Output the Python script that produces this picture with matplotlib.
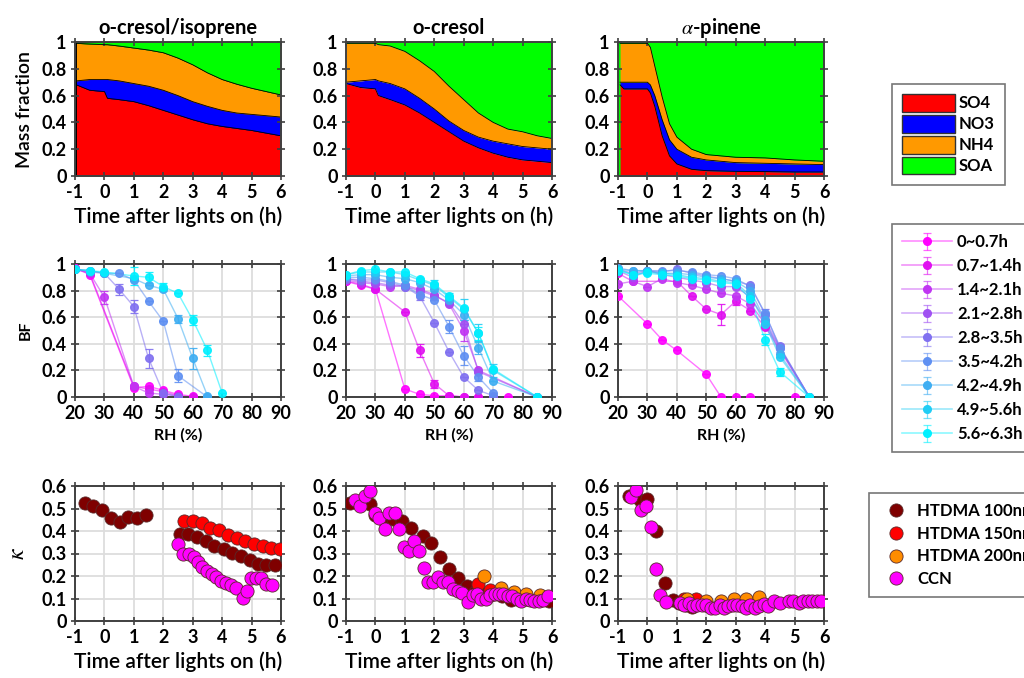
import numpy as np
import matplotlib
matplotlib.use("Agg")
import matplotlib.pyplot as plt
from matplotlib.patches import Patch
from matplotlib.lines import Line2D
from matplotlib.colors import to_rgba

plt.rcParams['font.family'] = ['Lato', 'DejaVu Sans']
plt.rcParams['mathtext.fontset'] = 'stix'
plt.rcParams['axes.unicode_minus'] = False

# ---------------- Row 1: mass fractions (cumulative tops) ----------------
titles = ["o-cresol/isoprene", "o-cresol", r"$\alpha$-pinene"]
species = ["SO4", "NO3", "NH4", "SOA"]
species_colors = ["#FF0000", "#0000FF", "#FF9900", "#00FF00"]

t_iso = [-0.95, -0.5, 0, 0.1, 0.5, 1, 1.5, 2, 2.5, 3, 3.5, 4, 4.5, 5, 5.5, 6]
so4_iso = [0.68, 0.64, 0.63, 0.58, 0.57, 0.555, 0.525, 0.49, 0.455, 0.42, 0.39, 0.37, 0.355, 0.34, 0.32, 0.30]
no3_iso = [0.71, 0.72, 0.72, 0.72, 0.71, 0.69, 0.67, 0.64, 0.60, 0.555, 0.52, 0.49, 0.47, 0.46, 0.45, 0.44]
nh4_iso = [0.99, 0.985, 0.98, 0.98, 0.97, 0.955, 0.94, 0.92, 0.88, 0.83, 0.77, 0.72, 0.685, 0.655, 0.63, 0.605]

t_cre = [-1, -0.5, 0, 0.1, 0.5, 1, 1.5, 2, 2.5, 3, 3.5, 4, 4.5, 5, 5.5, 6]
so4_cre = [0.69, 0.66, 0.65, 0.60, 0.57, 0.53, 0.47, 0.40, 0.33, 0.26, 0.21, 0.17, 0.14, 0.12, 0.11, 0.10]
no3_cre = [0.70, 0.71, 0.72, 0.71, 0.69, 0.65, 0.58, 0.50, 0.41, 0.34, 0.29, 0.26, 0.24, 0.22, 0.21, 0.20]
nh4_cre = [0.99, 0.99, 0.99, 0.98, 0.97, 0.93, 0.86, 0.78, 0.67, 0.57, 0.47, 0.40, 0.35, 0.33, 0.30, 0.28]

t_pin = [-0.93, -0.8, 0, 0.1, 0.25, 0.5, 0.75, 1, 1.5, 2, 3, 4, 5, 6]
so4_pin = [0.68, 0.65, 0.65, 0.62, 0.52, 0.30, 0.15, 0.09, 0.05, 0.04, 0.035, 0.033, 0.03, 0.03]
no3_pin = [0.70, 0.70, 0.70, 0.68, 0.60, 0.42, 0.27, 0.20, 0.14, 0.12, 0.10, 0.095, 0.09, 0.085]
nh4_pin = [0.99, 0.99, 0.99, 0.96, 0.82, 0.59, 0.39, 0.29, 0.20, 0.16, 0.14, 0.135, 0.12, 0.11]

mass_sets = [(t_iso, so4_iso, no3_iso, nh4_iso),
             (t_cre, so4_cre, no3_cre, nh4_cre),
             (t_pin, so4_pin, no3_pin, nh4_pin)]
mass_bg = ["black", "white", "#00FF00"]

# ---------------- Row 2: bounce fraction vs RH ----------------
rh = [20, 25, 30, 35, 40, 45, 50, 55, 60, 65, 70, 75, 80, 85]
bf_labels = ["0~0.7h", "0.7~1.4h", "1.4~2.1h", "2.1~2.8h", "2.8~3.5h",
             "3.5~4.2h", "4.2~4.9h", "4.9~5.6h", "5.6~6.3h"]
bf_colors = ["#FF00FF", "#E010F0", "#C035F2", "#A050F2", "#8070F0",
             "#5F90F2", "#3FAEF2", "#20CDF5", "#00F0FF"]
n = np.nan
bf_iso = [
    [0.97, 0.92, n, n, 0.07, 0.08, 0.05, 0.02, 0.005, n, n, n, n, n],
    [0.97, 0.93, n, n, 0.08, 0.06, 0.04, 0.01, 0.0, n, n, n, n, n],
    [0.96, 0.93, 0.75, n, 0.08, 0.03, 0.02, 0.01, n, n, n, n, n, n],
    [n] * 14,
    [0.96, 0.94, 0.93, 0.81, 0.68, 0.29, 0.03, 0.0, n, n, n, n, n, n],
    [0.96, 0.95, 0.93, 0.93, 0.88, 0.72, 0.57, 0.16, n, 0.0, n, n, n, n],
    [0.96, 0.95, 0.93, n, 0.89, 0.84, 0.81, 0.59, 0.29, 0.01, n, n, n, n],
    [n] * 14,
    [0.96, 0.95, 0.94, n, 0.91, 0.90, 0.83, 0.78, 0.58, 0.35, 0.03, n, n, n],
]
bf_cre = [
    [0.87, 0.84, 0.81, n, 0.06, 0.02, 0.01, 0.01, 0.0, 0.0, 0.0, 0.0, n, n],
    [0.87, 0.85, 0.81, n, 0.64, 0.35, 0.10, 0.01, 0.0, 0.0, n, n, n, n],
    [0.88, 0.86, 0.85, 0.83, 0.84, 0.81, 0.77, 0.70, 0.50, 0.20, n, n, n, 0.0],
    [0.89, 0.87, 0.86, 0.84, 0.83, 0.80, 0.76, 0.71, 0.55, 0.19, n, n, n, 0.0],
    [0.89, 0.88, 0.88, 0.86, 0.83, 0.76, 0.56, 0.34, 0.15, 0.05, 0.01, n, n, n],
    [0.90, 0.90, 0.89, 0.87, 0.84, 0.77, 0.73, 0.53, 0.31, 0.15, 0.03, n, n, n],
    [0.91, 0.92, 0.92, 0.90, 0.89, 0.86, 0.81, 0.73, 0.62, 0.37, 0.12, n, n, 0.0],
    [0.92, 0.94, 0.94, 0.94, 0.92, 0.88, 0.84, 0.75, 0.66, 0.48, 0.20, n, n, 0.0],
    [0.92, 0.95, 0.96, 0.94, 0.94, 0.89, 0.85, 0.76, 0.67, 0.48, 0.21, n, n, 0.0],
]
bf_pin = [
    [0.76, n, 0.55, 0.43, 0.35, n, 0.17, 0.0, 0.0, 0.0, n, n, 0.0, n],
    [0.93, 0.87, n, n, 0.87, 0.76, 0.66, 0.62, 0.72, 0.65, 0.53, n, n, 0.0],
    [0.85, 0.87, 0.83, 0.89, 0.86, 0.84, 0.81, 0.78, 0.76, 0.70, 0.55, n, n, 0.0],
    [0.95, 0.90, 0.95, 0.92, 0.90, 0.88, 0.86, 0.83, 0.83, 0.75, 0.58, 0.37, n, 0.0],
    [0.96, 0.93, 0.95, 0.94, 0.96, 0.93, 0.91, 0.89, 0.87, 0.84, 0.62, 0.38, n, 0.0],
    [0.97, 0.95, 0.95, 0.95, 0.95, 0.94, 0.92, 0.91, 0.89, 0.83, 0.63, 0.37, n, 0.0],
    [0.96, 0.95, 0.95, 0.93, 0.93, 0.92, 0.90, 0.89, 0.87, 0.80, 0.58, 0.32, n, 0.0],
    [0.96, 0.92, 0.94, 0.93, 0.92, 0.90, 0.89, 0.87, 0.86, 0.76, 0.55, 0.30, n, 0.0],
    [0.95, 0.92, 0.93, 0.92, 0.91, 0.89, 0.88, 0.86, 0.85, 0.74, 0.43, 0.19, n, 0.0],
]
# error bars: (series index, RH) -> error
err_iso = {(2, 30): 0.05, (4, 35): 0.04, (4, 40): 0.05, (4, 45): 0.07, (5, 55): 0.05,
           (6, 55): 0.03, (6, 60): 0.08, (8, 40): 0.07, (8, 45): 0.04, (8, 50): 0.03,
           (8, 60): 0.04, (8, 65): 0.04}
err_cre = {(1, 45): 0.05, (1, 50): 0.03, (2, 60): 0.08, (4, 45): 0.03, (5, 55): 0.05,
           (5, 60): 0.07, (5, 65): 0.03, (6, 60): 0.04, (6, 65): 0.05, (7, 50): 0.04,
           (7, 55): 0.03, (7, 60): 0.08, (7, 65): 0.07, (7, 70): 0.05, (8, 65): 0.05}
err_pin = {(1, 55): 0.08, (1, 60): 0.03, (8, 70): 0.04, (8, 75): 0.03, (4, 70): 0.04,
           (3, 75): 0.03}
bf_sets = [(bf_iso, err_iso), (bf_cre, err_cre), (bf_pin, err_pin)]

# ---------------- Row 3: kappa vs time ----------------
k_labels = ["HTDMA 100nm", "HTDMA 150nm", "HTDMA 200nm", "CCN"]
k_colors = ["#7F0000", "#FF0000", "#FF8C00", "#FF00FF"]

k_iso = {
    "HTDMA 100nm": ([-0.66, -0.38, -0.07, 0.22, 0.52, 0.81, 1.09, 1.40,
                     2.56, 2.85, 3.15, 3.46, 3.74, 4.05, 4.34, 4.63, 4.93, 5.21, 5.49, 5.78],
                    [0.526, 0.511, 0.495, 0.459, 0.44, 0.462, 0.457, 0.469,
                     0.388, 0.388, 0.374, 0.356, 0.332, 0.321, 0.302, 0.287, 0.273, 0.255, 0.25, 0.247]),
    "HTDMA 150nm": ([2.70, 3.0, 3.31, 3.59, 3.88, 4.19, 4.49, 4.78, 5.07, 5.38, 5.66, 5.98],
                    [0.444, 0.443, 0.436, 0.415, 0.403, 0.381, 0.37, 0.356, 0.344, 0.332, 0.326, 0.319]),
    "HTDMA 200nm": ([], []),
    "CCN": ([2.50, 2.67, 2.88, 3.03, 3.18, 3.33, 3.48, 3.65, 3.80, 3.97, 4.14, 4.31, 4.47,
             4.70, 4.85, 4.99, 5.15, 5.32, 5.49, 5.69],
            [0.341, 0.30, 0.30, 0.286, 0.264, 0.239, 0.222, 0.21, 0.196, 0.178, 0.17, 0.159, 0.147,
             0.102, 0.133, 0.191, 0.19, 0.19, 0.166, 0.161]),
}
k_cre = {
    "HTDMA 100nm": ([-0.85, -0.2, 0.0, 0.3, 0.6, 0.9, 1.2, 1.6, 1.9, 2.2, 2.5, 2.8, 3.1,
                     3.4, 3.7, 4.0, 4.3, 4.6, 4.9, 5.2, 5.5, 5.9],
                    [0.525, 0.52, 0.47, 0.45, 0.455, 0.445, 0.415, 0.38, 0.345, 0.285, 0.23, 0.19,
                     0.155, 0.13, 0.12, 0.12, 0.11, 0.095, 0.10, 0.10, 0.095, 0.09]),
    "HTDMA 150nm": ([3.5, 3.9, 4.3, 4.7, 5.1, 5.6], [0.165, 0.14, 0.13, 0.12, 0.11, 0.10]),
    "HTDMA 200nm": ([3.7, 4.25, 4.7, 5.1, 5.6], [0.20, 0.145, 0.13, 0.12, 0.115]),
    "CCN": ([-0.68, -0.51, -0.36, -0.19, -0.01, 0.13, 0.32, 0.47, 0.66, 0.81, 0.98, 1.15,
             1.31, 1.48, 1.65, 1.80, 1.97, 2.14, 2.30, 2.47, 2.64, 2.81, 2.95, 3.14, 3.3,
             3.45, 3.6, 3.75, 3.9, 4.05, 4.2, 4.35, 4.5, 4.65, 4.8, 4.95, 5.1, 5.25, 5.4,
             5.55, 5.7, 5.85],
            [0.54, 0.51, 0.555, 0.578, 0.48, 0.46, 0.41, 0.48, 0.48, 0.41, 0.33, 0.31,
             0.355, 0.31, 0.237, 0.173, 0.173, 0.195, 0.173, 0.173, 0.144, 0.132, 0.124, 0.084,
             0.115, 0.12, 0.10, 0.10, 0.115, 0.12, 0.12, 0.12, 0.11, 0.11, 0.10, 0.09, 0.10,
             0.095, 0.09, 0.09, 0.095, 0.11]),
}
k_pin = {
    "HTDMA 100nm": ([-0.63, -0.26, -0.01, 0.28, 0.59, 0.87, 1.07, 1.3, 1.53, 2.0],
                    [0.554, 0.539, 0.544, 0.399, 0.169, 0.092, 0.081, 0.07, 0.062, 0.07]),
    "HTDMA 150nm": ([1.25, 1.65], [0.10, 0.10]),
    "HTDMA 200nm": ([1.35, 2.0, 2.5, 2.95, 3.35, 3.8], [0.10, 0.09, 0.09, 0.10, 0.10, 0.105]),
    "CCN": ([-0.55, -0.38, -0.21, -0.04, 0.11, 0.30, 0.44, 0.62, 1.1, 1.25, 1.4, 1.55, 1.7,
             1.85, 2.0, 2.15, 2.3, 2.45, 2.6, 2.75, 2.9, 3.05, 3.2, 3.35, 3.5, 3.65, 3.8, 3.95,
             4.1, 4.3, 4.5, 4.8, 4.95, 5.15, 5.3, 5.45, 5.6, 5.75, 5.9],
            [0.55, 0.584, 0.495, 0.51, 0.42, 0.233, 0.114, 0.084, 0.08, 0.07, 0.08, 0.065, 0.07,
             0.07, 0.07, 0.06, 0.06, 0.07, 0.06, 0.065, 0.07, 0.07, 0.065, 0.06, 0.07, 0.06,
             0.065, 0.075, 0.065, 0.09, 0.08, 0.09, 0.09, 0.08, 0.09, 0.09, 0.09, 0.09, 0.09]),
}
k_sets = [k_iso, k_cre, k_pin]

# ---------------- layout ----------------
W, H = 1024, 678
fig = plt.figure(figsize=(W / 100, H / 100), dpi=100)
col_left = [75 / W, 346 / W, 618 / W]
ax_w = 206 / W
row_box = [(176, 134), (397, 133), (621, 135)]  # (bottom px, height px)

spine_c = "#404040"
TICK_SIZE = 13


def style_axes(ax, grid=False):
    for s in ax.spines.values():
        s.set_color(spine_c)
        s.set_linewidth(1.4)
    ax.tick_params(direction="inout", top=True, right=True, length=6, width=1.2,
                   color=spine_c, labelsize=TICK_SIZE, pad=3)
    for lab in ax.get_xticklabels() + ax.get_yticklabels():
        lab.set_fontweight("bold")
    if grid:
        ax.grid(True, color="#DDDDDD", lw=1.3)
        ax.set_axisbelow(True)


def make_ax(row, col):
    b, h = row_box[row]
    return fig.add_axes([col_left[col], 1 - b / H, ax_w, h / H])


xlab_kw = dict(fontsize=15, fontweight="semibold", labelpad=4)

# Row 1
for i, (t, so4, no3, nh4) in enumerate(mass_sets):
    ax = make_ax(0, i)
    ax.set_facecolor(mass_bg[i])
    ax.fill_between(t, 0, so4, color=species_colors[0], lw=0)
    ax.fill_between(t, so4, no3, color=species_colors[1], lw=0)
    ax.fill_between(t, no3, nh4, color=species_colors[2], lw=0)
    ax.fill_between(t, nh4, 1, color=species_colors[3], lw=0)
    for top in (so4, no3, nh4):
        ax.plot(t, top, color="black", lw=0.6)
    ax.set_xlim(-1, 6)
    ax.set_ylim(0, 1)
    ax.set_xticks(range(-1, 7))
    ax.set_yticks([0, 0.2, 0.4, 0.6, 0.8, 1])
    ax.set_yticklabels(["0", "0.2", "0.4", "0.6", "0.8", "1"])
    style_axes(ax)
    ax.set_title(titles[i], fontsize=14.5, fontweight="bold", pad=6)
    ax.set_xlabel("Time after lights on (h)", **xlab_kw)
    if i == 0:
        ax.set_ylabel("Mass fraction", fontsize=14, fontweight="semibold", labelpad=6)

# Row 2
bf_handles = []
for i, (bf, errs) in enumerate(bf_sets):
    ax = make_ax(1, i)
    for k, row in enumerate(bf):
        y = np.array(row, dtype=float)
        m = ~np.isnan(y)
        if not m.any():
            continue
        x = np.array(rh)[m]
        e = [errs.get((k, r), 0.0) for r in x]
        ax.plot(x, y[m], color=bf_colors[k], lw=1.0, alpha=0.55, zorder=2)
        ax.errorbar(x, y[m], yerr=e, fmt="o", ms=5.5, color=bf_colors[k],
                    ecolor=bf_colors[k], elinewidth=0.9, capsize=3, capthick=0.9,
                    alpha=0.9, zorder=3)
    if i == 0:
        # legend proxies: line + marker + vertical error bar
        for k, col in enumerate(bf_colors):
            eb = ax.errorbar([np.nan], [np.nan], yerr=[0.1], fmt="o-", ms=5.5,
                             color=to_rgba(col, 0.45), mfc=col, mec=col, ecolor=to_rgba(col, 0.6),
                             lw=1.2, elinewidth=0.9, capsize=3, capthick=0.9,
                             label=bf_labels[k])
            bf_handles.append(eb)
    ax.set_xlim(20, 90)
    ax.set_ylim(0, 1)
    ax.set_xticks(range(20, 91, 10))
    ax.set_yticks([0, 0.2, 0.4, 0.6, 0.8, 1])
    ax.set_yticklabels(["0", "0.2", "0.4", "0.6", "0.8", "1"])
    style_axes(ax, grid=True)
    ax.set_xlabel("RH (%)", fontsize=11.5, fontweight="bold", labelpad=4)
    if i == 0:
        ax.set_ylabel("BF", fontsize=11.5, fontweight="bold", labelpad=6)

# Row 3
for i, kd in enumerate(k_sets):
    ax = make_ax(2, i)
    for lab, col in zip(k_labels, k_colors):
        x, y = kd[lab]
        if len(x):
            ax.scatter(x, y, s=90, color=col, edgecolor="#5A2A2A", linewidth=0.6, zorder=3)
    ax.set_xlim(-1, 6)
    ax.set_ylim(0, 0.6)
    ax.set_xticks(range(-1, 7))
    ax.set_yticks([0, 0.1, 0.2, 0.3, 0.4, 0.5, 0.6])
    ax.set_yticklabels(["0", "0.1", "0.2", "0.3", "0.4", "0.5", "0.6"])
    style_axes(ax, grid=True)
    ax.set_xlabel("Time after lights on (h)", **xlab_kw)
    if i == 0:
        ax.set_ylabel(r"$\kappa$", fontsize=17, labelpad=10)

# Legends
leg_kw = dict(frameon=True, fancybox=False, edgecolor="#555555",
              prop=dict(weight="bold", size=12), borderpad=0.6)

h1 = [Patch(facecolor=c, edgecolor="#333333", label=s) for s, c in zip(species, species_colors)]
lg1 = fig.legend(handles=h1, loc="upper left", bbox_to_anchor=(892 / W, 1 - 84 / H),
                 handlelength=3.2, handleheight=1.25, handletextpad=0.2, labelspacing=0.2,
                 borderaxespad=0, **leg_kw)
lg1.get_frame().set_linewidth(1.2)

lg2 = fig.legend(handles=bf_handles, loc="upper left", bbox_to_anchor=(892 / W, 1 - 224 / H),
                 handlelength=3.0, handletextpad=0.3, labelspacing=0.48,
                 borderaxespad=0, **leg_kw)
lg2.get_frame().set_linewidth(1.2)

h3 = [Line2D([], [], ls="none", marker="o", ms=9.5, color=c, markeredgecolor="#5A2A2A",
             markeredgewidth=0.6, label=l) for l, c in zip(k_labels, k_colors)]
lg3 = fig.legend(handles=h3, loc="upper left", bbox_to_anchor=(869 / W, 1 - 493 / H),
                 handlelength=2.0, handletextpad=0.3, labelspacing=0.4,
                 borderaxespad=0, **leg_kw)
lg3.get_frame().set_linewidth(1.2)

fig.savefig("out.png", dpi=100)
